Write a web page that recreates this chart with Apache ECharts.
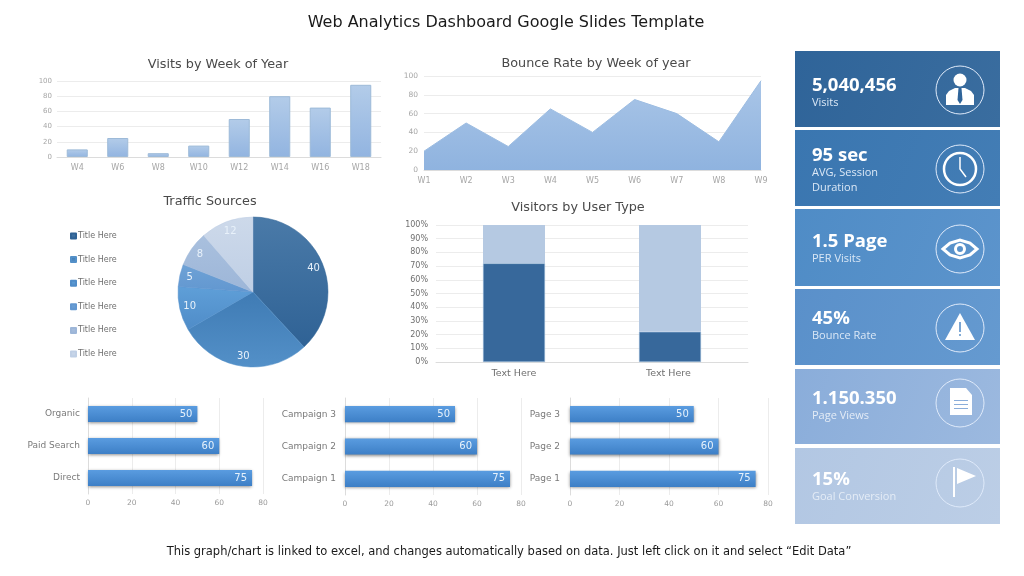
<!DOCTYPE html>
<html>
<head>
<meta charset="utf-8">
<title>Web Analytics Dashboard</title>
<script src="https://cdn.jsdelivr.net/npm/echarts@6/dist/echarts.min.js"></script>
<style>
    html, body { margin: 0; padding: 0; background: #fff; }
    #main { width: 1024px; height: 576px; }
</style>
</head>
<body>
<div id="main"></div>
<script>
// chart data
const visitWeeks = ['W4', 'W6', 'W8', 'W10', 'W12', 'W14', 'W16', 'W18'];
const visitValues = [10, 25, 5, 15, 50, 80, 65, 95];

const bounceWeeks = ['W1', 'W2', 'W3', 'W4', 'W5', 'W6', 'W7', 'W8', 'W9'];
const bounceValues = [20, 50, 25, 65, 40, 75, 60, 30, 95];

const trafficNames = ['Title Here 1', 'Title Here 2', 'Title Here 3', 'Title Here 4', 'Title Here 5', 'Title Here 6'];
const trafficValues = [40, 30, 10, 5, 8, 12];

const userTypes = ['Text Here', 'Text Here '];
const userTypeLower = [72, 22];
const userTypeUpper = [28, 78];

const sourceNames = ['Direct', 'Paid Search', 'Organic'];
const campaignNames = ['Campaign 1', 'Campaign 2', 'Campaign 3'];
const pageNames = ['Page 1', 'Page 2', 'Page 3'];
const rowValues = [75, 60, 50];

const kpiValues = ['5,040,456', '95 sec', '1.5 Page', '45%', '1.150.350', '15%'];
const kpiLabels = ['Visits', 'AVG, Session\nDuration', 'PER Visits', 'Bounce Rate', 'Page Views', 'Goal Conversion'];

// colours and card layout
const titleFont = 'DejaVu Sans';
const pieColors = [['#4a7aa8', '#2f6295'], ['#3f7bb4', '#5390c8'], ['#5f9fd8', '#4f8cc8'], ['#6ea2d6', '#6297d0'], ['#a9c0de', '#9db6d8'], ['#cdd9ea', '#bfcfe5']];
const cardColors = [['#2f6499', '#3a6d9f'], ['#3a76b0', '#437db5'], ['#4f8cc6', '#5c94cc'], ['#5a90ca', '#659ad0'], ['#8aadda', '#9cb9df'], ['#b2c7e3', '#bccee6']];
const cardBoxes = [[51, 76], [130, 76], [209, 77], [289, 76], [369, 75], [448, 76]];
const cardTextY = [84, 154, 240, 317, 397, 478];
const cardIconY = [90, 169, 249, 328, 403, 483];

function vGrad(top, bottom) {
    return new echarts.graphic.LinearGradient(0, 0, 0, 1, [
        { offset: 0, color: top },
        { offset: 1, color: bottom }
    ]);
}

function smallTitle(text, x, y) {
    return {
        text: text,
        left: x,
        top: y,
        textAlign: 'center',
        textStyle: { fontFamily: titleFont, fontSize: 12.8, fontWeight: 'normal', color: '#4a4a4a' }
    };
}

function rowBars(idx, data) {
    return {
        type: 'bar',
        xAxisIndex: idx,
        yAxisIndex: idx,
        data: data,
        barWidth: '50%',
        itemStyle: {
            color: vGrad('#5a9ce0', '#3d7fc6'),
            shadowBlur: 3,
            shadowOffsetY: 1,
            shadowColor: 'rgba(0,0,0,0.45)'
        },
        label: {
            show: true,
            position: 'insideRight',
            distance: 5,
            color: '#e6f1fb',
            fontFamily: titleFont,
            fontSize: 10
        }
    };
}

function valueAxis(idx, max, interval, fontSize, color, margin, formatter) {
    return {
        type: 'value',
        gridIndex: idx,
        min: 0,
        max: max,
        interval: interval,
        axisLine: { show: false },
        axisTick: { show: false },
        splitLine: { show: true, lineStyle: { color: '#ececec', width: 1 } },
        axisLabel: { fontFamily: titleFont, fontSize: fontSize, color: color, margin: margin, formatter: formatter || '{value}' }
    };
}

function categoryAxis(idx, data, fontSize, color, margin, boundaryGap) {
    return {
        type: 'category',
        gridIndex: idx,
        data: data,
        boundaryGap: boundaryGap,
        axisLine: { show: true, lineStyle: { color: '#dcdcdc' } },
        axisTick: { show: false },
        axisLabel: { fontFamily: titleFont, fontSize: fontSize, color: color, margin: margin, interval: 0 }
    };
}

// icons, drawn round the middle of the circle
function iconShapes(i, dark) {
    const white = { fill: '#fff' };
    const stroke = { fill: 'none', stroke: '#fff', lineWidth: 3 };
    if (i === 0) return [
        { type: 'circle', shape: { cx: 0, cy: -10, r: 6.5 }, style: white },
        { type: 'polygon', shape: { points: [[-14, 15], [-14, 5], [-11, 1], [-5, -2], [5, -2], [11, 1], [14, 5], [14, 15]] }, style: white },
        { type: 'polygon', shape: { points: [[-1.5, -2], [1.5, -2], [2.5, 10], [0, 14], [-2.5, 10]] }, style: { fill: dark } }
    ];
    if (i === 1) return [
        { type: 'circle', shape: { cx: 0, cy: 0, r: 16 }, style: { fill: 'none', stroke: '#fff', lineWidth: 2.5 } },
        { type: 'polyline', shape: { points: [[0, -12], [0, 0], [6, 8]] }, style: { fill: 'none', stroke: '#fff', lineWidth: 1.5 } }
    ];
    if (i === 2) return [
        { type: 'polygon', shape: { points: [[-17, 0], [-10, -6], [0, -9], [10, -6], [17, 0], [10, 6], [0, 9], [-10, 6]] }, style: stroke },
        { type: 'circle', shape: { cx: 0, cy: 0, r: 4.5 }, style: stroke }
    ];
    if (i === 3) return [
        { type: 'polygon', shape: { points: [[0, -15], [15, 12], [-15, 12]] }, style: white },
        { type: 'rect', shape: { x: -0.8, y: -6, width: 1.6, height: 10 }, style: { fill: dark } },
        { type: 'circle', shape: { cx: 0, cy: 7, r: 1 }, style: { fill: dark } }
    ];
    if (i === 4) return [
        { type: 'polygon', shape: { points: [[-10, -15], [6, -15], [12, -8], [12, 12], [-10, 12]] }, style: white },
        { type: 'rect', shape: { x: -6, y: -3, width: 14, height: 1 }, style: { fill: dark } },
        { type: 'rect', shape: { x: -6, y: 1, width: 14, height: 1 }, style: { fill: dark } },
        { type: 'rect', shape: { x: -6, y: 5, width: 14, height: 1 }, style: { fill: dark } }
    ];
    return [
        { type: 'rect', shape: { x: -7, y: -16, width: 2, height: 30 }, style: white },
        { type: 'polygon', shape: { points: [[-3, -15], [16, -7], [-3, 1]] }, style: white }
    ];
}

function buildCards() {
    const items = [];
    kpiValues.forEach(function (val, i) {
        const box = cardBoxes[i];
        items.push({
            type: 'rect',
            shape: { x: 795, y: box[0], width: 205, height: box[1] },
            style: {
                fill: new echarts.graphic.LinearGradient(0, 0, 1, 1, [
                    { offset: 0, color: cardColors[i][0] },
                    { offset: 1, color: cardColors[i][1] }
                ])
            }
        });
        items.push({
            type: 'text',
            style: { text: val, x: 812, y: cardTextY[i] + 2, fill: '#fff', font: 'bold 18.5px "Open Sans"', verticalAlign: 'middle' }
        });
        items.push({
            type: 'text',
            style: { text: kpiLabels[i], x: 812, y: cardTextY[i] + 11, fill: i > 3 ? '#e4ecf6' : '#dbe8f6', font: '11px "Open Sans"', lineHeight: 15, verticalAlign: 'top' }
        });
        items.push({
            type: 'group',
            x: 960,
            y: cardIconY[i],
            children: [
                { type: 'circle', shape: { cx: 0, cy: 0, r: 24 }, style: { fill: 'none', stroke: '#dfeafa', lineWidth: 1 } }
            ].concat(iconShapes(i, cardColors[i][0]))
        });
    });
    return items;
}

const option = {
    backgroundColor: '#fff',
    animation: false,
    title: [
        {
            text: 'Web Analytics Dashboard Google Slides Template',
            left: 501,
            top: 10,
            textAlign: 'center',
            textStyle: { fontFamily: titleFont, fontSize: 16, fontWeight: 'normal', color: '#1a1a1a' }
        },
        smallTitle('Visits by Week of Year', 213, 53),
        smallTitle('Bounce Rate by Week of year', 591, 52),
        smallTitle('Traffic Sources', 205, 190),
        smallTitle('Visitors by User Type', 573, 196),
        {
            text: 'This graph/chart is linked to excel, and changes automatically based on data. Just left click on it and select “Edit Data”',
            left: 504,
            top: 541,
            textAlign: 'center',
            textStyle: { fontFamily: titleFont, fontSize: 11.5, fontWeight: 'normal', color: '#1a1a1a' }
        }
    ],
    legend: {
        orient: 'vertical',
        left: 65,
        top: 227,
        icon: 'rect',
        itemWidth: 5,
        itemHeight: 5,
        itemGap: 15.6,
        data: trafficNames,
        formatter: function (name) { return name.replace(/ \d$/, ''); },
        textStyle: { fontFamily: titleFont, fontSize: 8, color: '#6f6f6f', padding: [0, 0, 0, -3] }
    },
    grid: [
        { left: 57, top: 81, width: 324, height: 76 },
        { left: 424, top: 76, width: 337, height: 94 },
        { left: 436, top: 225, width: 312, height: 137 },
        { left: 88, top: 398, width: 175, height: 96 },
        { left: 345, top: 398, width: 176, height: 97 },
        { left: 570, top: 398, width: 198, height: 97 }
    ],
    xAxis: [
        categoryAxis(0, visitWeeks, 8, '#a6a6a6', 7, true),
        categoryAxis(1, bounceWeeks, 8, '#a6a6a6', 7, false),
        categoryAxis(2, userTypes, 9.5, '#6f6f6f', 7, true),
        valueAxis(3, 80, 20, 7.5, '#9a9a9a', 5),
        valueAxis(4, 80, 20, 7.5, '#9a9a9a', 5),
        valueAxis(5, 80, 20, 7.5, '#9a9a9a', 5)
    ],
    yAxis: [
        valueAxis(0, 100, 20, 7, '#a6a6a6', 5),
        valueAxis(1, 100, 20, 7.5, '#a6a6a6', 6),
        valueAxis(2, 100, 10, 8, '#6f6f6f', 8, '{value}%'),
        categoryAxis(3, sourceNames, 9, '#7a7a7a', 8, true),
        categoryAxis(4, campaignNames, 9, '#7a7a7a', 9, true),
        categoryAxis(5, pageNames, 9, '#7a7a7a', 10, true)
    ],
    series: [
        {
            type: 'bar',
            xAxisIndex: 0,
            yAxisIndex: 0,
            data: visitValues,
            barWidth: '52%',
            itemStyle: { color: vGrad('#b3cce9', '#92b4e0'), borderColor: '#9dbad8', borderWidth: 1 }
        },
        {
            type: 'line',
            xAxisIndex: 1,
            yAxisIndex: 1,
            data: bounceValues,
            symbol: 'none',
            lineStyle: { color: '#9dbde2', width: 1 },
            areaStyle: { color: vGrad('#a9c5e7', '#8fb3df'), opacity: 1 }
        },
        {
            type: 'bar',
            stack: 'user',
            xAxisIndex: 2,
            yAxisIndex: 2,
            data: userTypeLower,
            barWidth: 62,
            itemStyle: { color: '#37689b', borderColor: '#a9c6e3', borderWidth: 0.5 }
        },
        {
            type: 'bar',
            stack: 'user',
            xAxisIndex: 2,
            yAxisIndex: 2,
            data: userTypeUpper,
            barWidth: 62,
            itemStyle: { color: '#b5c9e2' }
        },
        rowBars(3, rowValues),
        rowBars(4, rowValues),
        rowBars(5, rowValues),
        {
            type: 'pie',
            center: [253, 292],
            radius: [0, 75],
            startAngle: 90,
            clockwise: true,
            silent: true,
            data: trafficNames.map(function (name, i) {
                return {
                    name: name,
                    value: trafficValues[i],
                    itemStyle: { color: vGrad(pieColors[i][0], pieColors[i][1]), borderColor: pieColors[i][1], borderWidth: 0.5 }
                };
            }),
            label: { show: false },
            labelLine: { show: false }
        },
        {
            // second ring, only there to push the value labels out towards the rim
            type: 'pie',
            center: [253, 292],
            radius: [49, 75],
            startAngle: 90,
            clockwise: true,
            silent: true,
            legendHoverLink: false,
            data: trafficNames.map(function (name, i) {
                return { name: name, value: trafficValues[i], itemStyle: { color: 'rgba(0,0,0,0)', borderWidth: 0 } };
            }),
            label: {
                show: true,
                position: 'inside',
                formatter: '{c}',
                fontFamily: titleFont,
                fontSize: 10,
                color: '#e8f1fa'
            },
            labelLine: { show: false }
        }
    ],
    graphic: buildCards()
};

const chart = echarts.init(document.getElementById('main'));
chart.setOption(option);
</script>
</body>
</html>
